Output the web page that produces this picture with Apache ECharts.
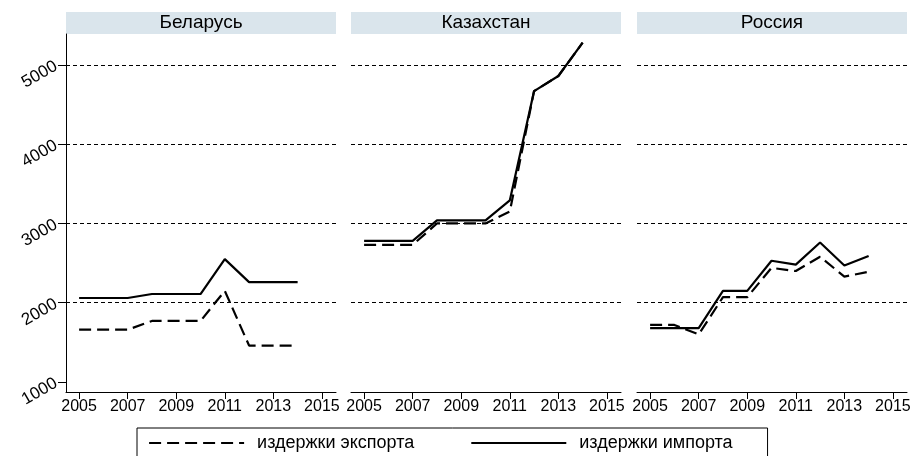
<!DOCTYPE html>
<html lang="ru">
<head>
    <meta charset="UTF-8">
    <title>Издержки экспорта и импорта</title>
    <script src="https://cdn.jsdelivr.net/npm/echarts@6/dist/echarts.min.js"></script>
    <style>
        html, body { margin: 0; padding: 0; background: #fff; }
        #main { width: 916px; height: 456px; }
    </style>
</head>
<body>
<div id="main"></div>
<script>
    // данные
    var countries = ['Беларусь', 'Казахстан', 'Россия'];
    var years = [2005, 2006, 2007, 2008, 2009, 2010, 2011, 2012, 2013, 2014];
    var xTicks = [2005, 2007, 2009, 2011, 2013, 2015];
    var yTicks = [1000, 2000, 3000, 4000, 5000];
    var gridVals = [2000, 3000, 4000, 5000];

    var exportBY = [1660, 1660, 1660, 1770, 1770, 1770, 2150, 1460, 1460, 1460];
    var importBY = [2060, 2060, 2060, 2110, 2110, 2110, 2550, 2260, 2260, 2260];
    var exportKZ = [2730, 2730, 2730, 3000, 3000, 3000, 3150, 4670, 4860, 5280];
    var importKZ = [2780, 2780, 2780, 3040, 3040, 3040, 3290, 4670, 4860, 5280];
    var exportRU = [1720, 1720, 1600, 2070, 2070, 2440, 2400, 2580, 2330, 2390];
    var importRU = [1680, 1680, 1680, 2150, 2150, 2530, 2480, 2760, 2470, 2590];

    var exportVals = [exportBY, exportKZ, exportRU];
    var importVals = [importBY, importKZ, importRU];

    var FONT = '"Liberation Sans", Arial, sans-serif';
    var panelLeft = [66, 351, 637];
    var panelWidth = 270;

    function pairs(vals) {
        return years.map(function (y, i) { return [y, vals[i]]; });
    }

    var grids = [], xAxes = [], yAxes = [], series = [], graphics = [];

    countries.forEach(function (name, i) {
        grids.push({ left: panelLeft[i], top: 34, width: panelWidth, height: 358 });

        xAxes.push({
            type: 'value', gridIndex: i, min: 2004.46, max: 2015.58,
            axisLine: { show: true, onZero: false, lineStyle: { color: '#000', width: 1 } },
            axisTick: { show: true, length: 7, customValues: xTicks, lineStyle: { color: '#000' } },
            axisLabel: {
                customValues: xTicks, color: '#000', fontSize: 16, fontFamily: FONT, margin: 7,
                formatter: function (v) { return String(v); }
            },
            splitLine: { show: false }
        });

        yAxes.push({
            type: 'value', gridIndex: i, min: 874, max: 5390, show: i === 0,
            axisLine: { show: true, lineStyle: { color: '#000', width: 1 } },
            axisTick: { show: true, length: 8, customValues: yTicks, lineStyle: { color: '#000' } },
            axisLabel: {
                customValues: yTicks, color: '#000', fontSize: 17, fontFamily: FONT,
                rotate: 30, margin: 10,
                formatter: function (v) { return String(v); }
            },
            splitLine: { show: false }
        });

        series.push({
            name: 'издержки экспорта', type: 'line', xAxisIndex: i, yAxisIndex: i,
            data: pairs(exportVals[i]), symbol: 'none',
            lineStyle: { color: '#000', width: 2.2, type: [12, 6] },
            itemStyle: { color: '#000' },
            markLine: {
                silent: true, symbol: 'none', label: { show: false },
                lineStyle: { color: '#000', width: 1, type: [4, 3] },
                data: gridVals.map(function (v) { return { yAxis: v }; })
            }
        });
        series.push({
            name: 'издержки импорта', type: 'line', xAxisIndex: i, yAxisIndex: i,
            data: pairs(importVals[i]), symbol: 'none',
            lineStyle: { color: '#000', width: 2.2, type: 'solid' },
            itemStyle: { color: '#000' }
        });

        // заголовок панели
        graphics.push({
            type: 'rect', left: panelLeft[i], top: 12,
            shape: { width: panelWidth, height: 22 },
            style: { fill: '#dae5ec' },
            textContent: {
                style: { text: name, fill: '#000', fontSize: 19, fontFamily: FONT }
            },
            textConfig: { position: 'inside' }
        });
    });

    var myChart = echarts.init(document.getElementById('main'));
    myChart.setOption({
        animation: false,
        grid: grids,
        xAxis: xAxes,
        yAxis: yAxes,
        series: series,
        graphic: graphics,
        legend: {
            left: 137, top: 428,
            data: ['издержки экспорта', 'издержки импорта'],
            itemWidth: 95, itemHeight: 14, itemGap: 56,
            padding: [6, 35, 6, 11],
            borderColor: '#000', borderWidth: 1, borderRadius: 0,
            itemStyle: { opacity: 0 },
            lineStyle: { width: 2.2 },
            textStyle: { color: '#000', fontSize: 18, fontFamily: FONT, width: 182, padding: [0, 0, 0, 8] }
        }
    });
</script>
</body>
</html>
